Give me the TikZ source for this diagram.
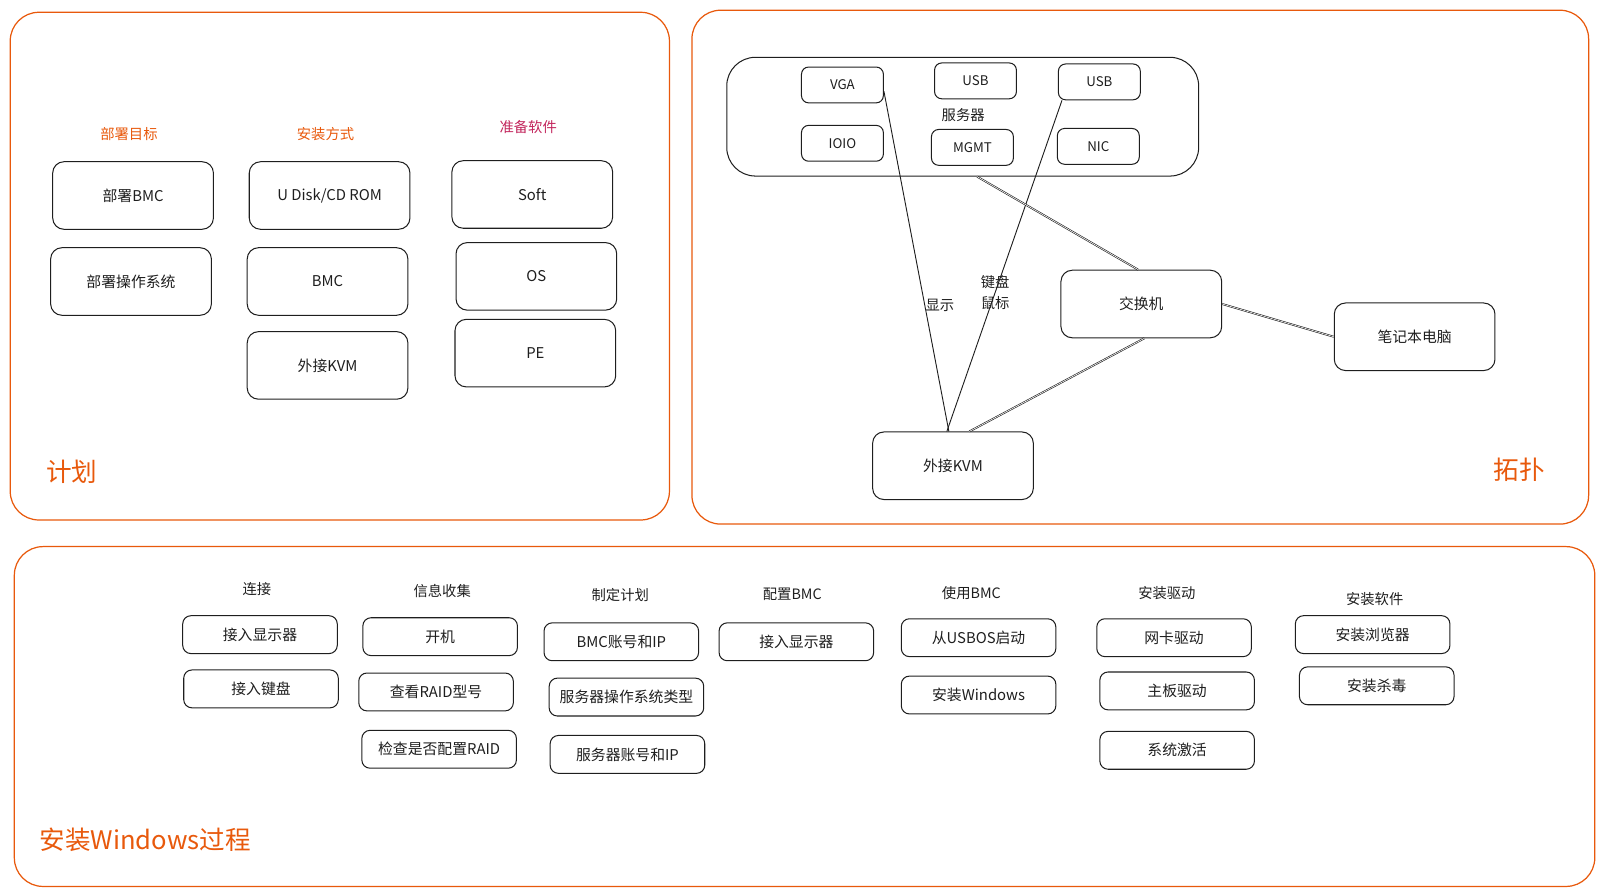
\documentclass[tikz,border=0pt]{standalone}
\usepackage{fontspec}
\setmainfont{Noto Sans CJK SC}
\definecolor{exorange}{HTML}{E8590C}
\definecolor{exrose}{HTML}{C2255C}
\definecolor{exink}{HTML}{1E1E1E}
\begin{document}
\begin{tikzpicture}[x=1pt,y=-1pt,
	panel/.style={draw=exorange,line width=1.2pt,rounded corners=28pt},
	title/.style={text=exorange,font=\fontsize{25}{27}\selectfont},
	head/.style={text=exink,font=\fontsize{14}{20}\selectfont},
	card/.style={draw=exink,line width=1pt,rounded corners=11pt,minimum width=157pt,minimum height=66pt,text=exink,font=\fontsize{14.5}{16}\selectfont},
	port/.style={card,rounded corners=7pt,minimum width=80pt,minimum height=35pt,font=\fontsize{13}{15}\selectfont},
	task/.style={card,rounded corners=8pt,minimum width=151pt,minimum height=37pt},
	wire/.style={draw=exink,line width=0.9pt},
	twin/.style={draw=exink,double=white,double distance=0.6pt,line width=0.6pt}]
		\useasboundingbox (0,0) rectangle (1568,874);
		% three frames
		\draw[panel] (10,12) rectangle (654,508);
		\draw[panel] (676,10) rectangle (1552,512);
		\draw[panel] (14,534) rectangle (1558,866);
		\node[title] (plan) at (70,461) {计划};
		\node[title] (topo) at (1484,459) {拓扑};
		\node[title,anchor=west] (proc) at (35,820) {安装Windows过程};
		% plan
		\node[head,text=exorange] (goal) at (126,131) {部署目标};
		\node[head,text=exorange] (mode) at (318,131) {安装方式};
		\node[head,text=exrose] (soft) at (516,124) {准备软件};
		\foreach \n/\x/\y/\t in {g1/130/191/部署BMC,g2/128/275/部署操作系统,m1/322/191/{U Disk/CD ROM},m2/320/275/BMC,m3/320/357/外接KVM,s1/520/190/Soft,s2/524/270/OS,s3/523/345/PE}{\node[card] (\n) at (\x,\y) {\t};}
		% topology
		\node[card,rounded corners=28pt,minimum width=461pt,minimum height=116pt] (server) at (940.5,114) {};
		\node[head] (srvname) at (941,112) {服务器};
		\foreach \n/\x/\y/\t in {vga/823/83/VGA,ioio/823/140/IOIO,usbm/953/79/USB,mgmt/950/144/MGMT,usbr/1074/80/USB,nic/1073/143/NIC}{\node[port] (\n) at (\x,\y) {\t};}
		\node[card] (kvm) at (931,455) {外接KVM};
		\node[card] (switch) at (1115,297) {交换机};
		\node[card] (laptop) at (1382,329) {笔记本电脑};
		\draw[wire] ([yshift=-6pt]vga.east) -- ([xshift=-4pt]kvm.north) node[pos=0.63,anchor=west,head,xshift=-3pt] {显示};
		\draw[wire] ([xshift=4pt]usbr.south west) -- ([xshift=-6pt]kvm.north) node[pos=0.58,head,align=center] {键盘\\鼠标};
		\draw[twin] ([xshift=14pt]server.south) -- ([xshift=-3pt]switch.north);
		\draw[twin] ([xshift=3pt]switch.south) -- ([xshift=16pt]kvm.north);
		\draw[twin] (switch.east) -- (laptop.west);
		% windows install steps
		\foreach \n/\x/\y/\t in {c1/251/575/连接,c2/432/577/信息收集,c3/606/581/制定计划,c4/774/581/配置BMC,c5/949/579/使用BMC,c6/1140/579/安装驱动,c7/1343/585/安装软件}{\node[head] (\n) at (\x,\y) {\t};}
		\foreach \n/\x/\y/\t in {t1/254/620/接入显示器,t2/255/673/接入键盘,t3/430/622/开机,t4/426/676/查看RAID型号,t5/429/732/检查是否配置RAID,t6/607/627/BMC账号和IP,t7/612/681/服务器操作系统类型,t8/613/737/服务器账号和IP,t9/778/627/接入显示器,t10/956/623/从USBOS启动,t11/956/679/安装Windows,t12/1147/623/网卡驱动,t13/1150/675/主板驱动,t14/1150/733/系统激活,t15/1341/620/安装浏览器,t16/1345/670/安装杀毒}{\node[task] (\n) at (\x,\y) {\t};}
	\end{tikzpicture}
\end{document}
